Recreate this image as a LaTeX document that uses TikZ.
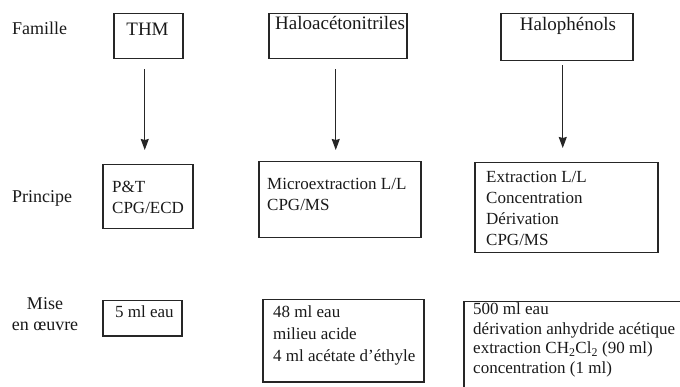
\documentclass[tikz,border=0pt]{standalone}
\usepackage{fontspec}
\setmainfont{Liberation Serif}
\usetikzlibrary{arrows.meta}
\newcommand{\tl}[1]{\begin{tabular}[t]{@{}l@{}}#1\end{tabular}}
\begin{document}
\begin{tikzpicture}[x=1pt,y=-1pt,
  box/.style={draw=black!85, line width=1.5pt, inner sep=0pt, anchor=north west},
  hd/.style={font=\fontsize{19}{22}\selectfont, text=black!90, inner sep=0pt},
  lbl/.style={font=\fontsize{18}{21}\selectfont, text=black!90, inner sep=0pt, anchor=base west},
  txt/.style={font=\fontsize{17}{21}\selectfont, text=black!90, inner sep=0pt, anchor=base west},
  arr/.style={draw=black!85, line width=1.2pt, -{Stealth[length=11pt,width=8pt,inset=1pt]}}]
\useasboundingbox (0,0) rectangle (680,387);
\clip (0,0) rectangle (680,387);
% boxes
\node[box, minimum width=69pt, minimum height=45pt] (thmF) at (113,13) {};
\node[box, minimum width=138pt, minimum height=45pt] (halF) at (268,13) {};
\node[box, minimum width=132pt, minimum height=47pt] (phF) at (500,13) {};
\node[box, minimum width=90pt, minimum height=64pt] (thmP) at (102,164) {};
\node[box, minimum width=162pt, minimum height=76pt] (halP) at (258,161) {};
\node[box, minimum width=183pt, minimum height=90pt] (phP) at (474,162) {};
\node[box, minimum width=79pt, minimum height=35pt] (thmM) at (102,300) {};
\node[box, minimum width=161pt, minimum height=82pt] (halM) at (262,299) {};
\node[box, minimum width=260pt, minimum height=120pt] (phM) at (463,301) {};
% row labels
\node[lbl] (lFam) at (12,35) {Famille};
\node[lbl] (lPri) at (12,203) {Principe};
\node[lbl, anchor=base] (lMise) at (45,309) {\begin{tabular}[t]{@{}c@{}}Mise\\en œuvre\end{tabular}};
% headers
\node[hd, anchor=base] (tTHM) at (147.5,36) {THM};
\node[hd, anchor=base west] (tHal) at (275,30) {Haloacétonitriles};
\node[hd, anchor=base] (tPh) at (568,31) {Halophénols};
% principe
\node[txt] (tP1) at (112,193) {\tl{P\&T\\CPG/ECD}};
\node[txt] (tP2) at (267,190) {\tl{Microextraction L/L\\CPG/MS}};
\node[txt] (tP3) at (486,183) {\tl{Extraction L/L\\Concentration\\Dérivation\\CPG/MS}};
% mise en oeuvre
\node[txt] (tM1) at (115,318) {5 ml eau};
\node[txt, font=\fontsize{17}{22}\selectfont] (tM2) at (273,317) {\tl{48 ml eau\\milieu acide\\4 ml acétate d'éthyle}};
\node[txt, font=\fontsize{17}{19.5}\selectfont] (tM3) at (473,315) {\tl{500 ml eau\\dérivation anhydride acétique\\extraction CH\textsubscript{2}Cl\textsubscript{2} (90 ml)\\concentration (1 ml)}};
% arrows
\draw[arr, shorten <=10pt, shorten >=14pt] ([xshift=-3.5pt]thmF.south) -- ([xshift=-3.5pt]thmF.south |- thmP.north);
\draw[arr, shorten <=10pt, shorten >=11pt] ([xshift=-2pt]halF.south) -- ([xshift=-2pt]halF.south |- halP.north);
\draw[arr, shorten <=4pt, shorten >=14pt] ([xshift=-4pt]phF.south) -- ([xshift=-4pt]phF.south |- phP.north);
\end{tikzpicture}
\end{document}
